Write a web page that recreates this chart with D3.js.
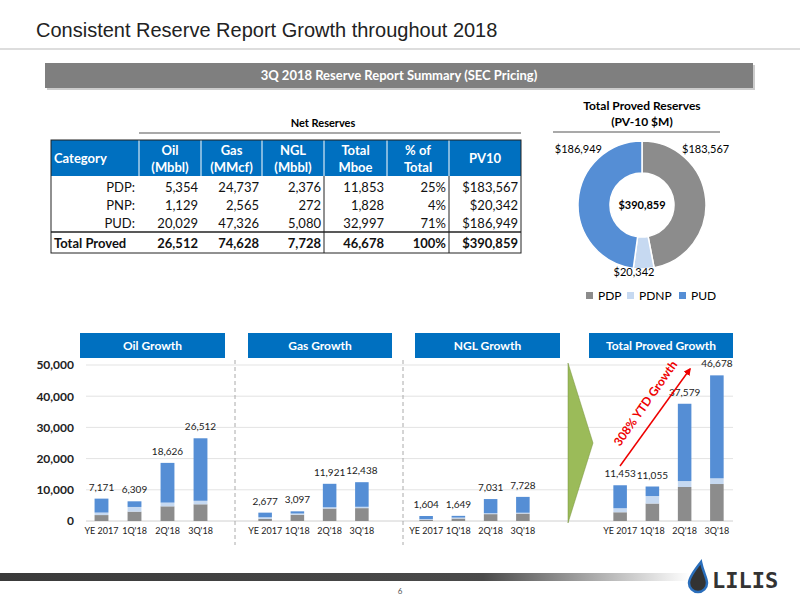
<!DOCTYPE html>
<html><head><meta charset="utf-8">
<script src="https://cdn.jsdelivr.net/npm/d3@7"></script>
<style>body{margin:0;background:#fff}svg{font-family:Lato,"Open Sans",sans-serif}</style>
</head><body><div id="chart"></div>
<script>
const quarters = ["YE 2017", "1Q'18", "2Q'18", "3Q'18"];
const panels = ["Oil Growth", "Gas Growth", "NGL Growth", "Total Proved Growth"];
const tiers = ["PDP", "PDNP", "PUD"];
// stacked values per panel: [PDP, PDNP, PUD] per quarter
const oilStack = [[1900, 800, 4471], [3000, 1500, 1809], [4700, 1200, 12726], [5354, 1129, 20029]];
const gasStack = [[700, 500, 1477], [2000, 400, 697], [4000, 400, 7521], [4123, 428, 7887]];
const nglStack = [[400, 200, 1004], [800, 300, 549], [2200, 300, 4531], [2376, 272, 5080]];
const totalStack = [[2800, 1300, 7353], [5600, 2400, 3055], [10900, 1900, 24779], [11853, 1828, 32997]];
const yTicks = [0, 10000, 20000, 30000, 40000, 50000];
const pieValues = [183567, 20342, 186949];
const pieTotal = "$390,859";
const tableHead = [["Category", ""], ["Oil", "(Mbbl)"], ["Gas", "(MMcf)"], ["NGL", "(Mbbl)"], ["Total", "Mboe"], ["% of", "Total"], ["PV10", ""]];
const tableRows = [
  ["PDP:", "5,354", "24,737", "2,376", "11,853", "25%", "$183,567"],
  ["PNP:", "1,129", "2,565", "272", "1,828", "4%", "$20,342"],
  ["PUD:", "20,029", "47,326", "5,080", "32,997", "71%", "$186,949"],
  ["Total Proved", "26,512", "74,628", "7,728", "46,678", "100%", "$390,859"]
];

const colors = {PDP: "#8c8c8c", PDNP: "#c6d9f1", PUD: "#558ed5"};
const blue = "#0070c0";
const svg = d3.select("#chart").append("svg").attr("width", 800).attr("height", 600);

// title
svg.append("text").attr("x", 36).attr("y", 37).attr("font-family", "Liberation Sans, Arial").attr("font-size", 20).attr("fill", "#222")
  .text("Consistent Reserve Report Growth throughout 2018");
svg.append("line").attr("x1", 0).attr("x2", 800).attr("y1", 49).attr("y2", 49).attr("stroke", "#bbb");

// banner
svg.append("rect").attr("x", 47).attr("y", 65).attr("width", 708).attr("height", 25).attr("fill", "#ccc");
svg.append("rect").attr("x", 45).attr("y", 63).attr("width", 708).attr("height", 25).attr("fill", "#7f7f7f");
svg.append("text").attr("x", 399).attr("y", 80).attr("text-anchor", "middle").attr("fill", "#fff")
  .attr("font-weight", "bold").attr("font-size", 13).text("3Q 2018 Reserve Report Summary (SEC Pricing)");

// table
const colX = [51, 139, 201, 262, 324, 387, 449, 521];
const tg = svg.append("g").attr("font-size", 13);
tg.append("text").attr("x", 323).attr("y", 127).attr("text-anchor", "middle").attr("font-weight", "bold").attr("font-size", 11).text("Net Reserves");
tg.append("line").attr("x1", 139).attr("x2", 521).attr("y1", 133).attr("y2", 133).attr("stroke", "#555").attr("stroke-width", 1.2);
tg.append("rect").attr("x", 51).attr("y", 140).attr("width", 470).attr("height", 36).attr("fill", blue);
tableHead.forEach((h, i) => {
  if (i > 0 && i < 7) tg.append("line").attr("x1", colX[i]).attr("x2", colX[i]).attr("y1", 140).attr("y2", 176).attr("stroke", "#fff");
  const cx = i === 0 ? 54 : (colX[i] + colX[i + 1]) / 2;
  const anchor = i === 0 ? "start" : "middle";
  const lines = h[1] === "" ? [[h[0], 163]] : [[h[0], 155], [h[1], 172]];
  lines.forEach(l => tg.append("text").attr("x", cx).attr("y", l[1]).attr("text-anchor", anchor)
    .attr("fill", "#fff").attr("font-weight", "bold").text(l[0]));
});
tg.append("rect").attr("x", 51).attr("y", 140).attr("width", 470).attr("height", 113).attr("fill", "none").attr("stroke", "#222");
[324, 449].forEach(x => tg.append("line").attr("x1", x).attr("x2", x).attr("y1", 176).attr("y2", 253).attr("stroke", "#222"));
tg.append("line").attr("x1", 51).attr("x2", 521).attr("y1", 232).attr("y2", 232).attr("stroke", "#222").attr("stroke-width", 1.5);
const rowY = [192, 210, 228, 248];
tableRows.forEach((r, ri) => {
  r.forEach((v, ci) => {
    const last = ri === 3;
    const x = ci === 0 ? (last ? 54 : 135) : colX[ci + 1] - 3;
    tg.append("text").attr("x", x).attr("y", rowY[ri]).attr("text-anchor", ci === 0 && last ? "start" : "end")
      .attr("font-weight", last ? "bold" : "normal").attr("fill", "#111").text(v);
  });
});

// donut
const pg = svg.append("g").attr("transform", "translate(642,205)");
svg.append("text").attr("x", 642).attr("y", 110).attr("text-anchor", "middle").attr("font-weight", "bold").attr("font-size", 12).text("Total Proved Reserves");
svg.append("text").attr("x", 642).attr("y", 126).attr("text-anchor", "middle").attr("font-weight", "bold").attr("font-size", 12).text("(PV-10 $M)");
svg.append("line").attr("x1", 553).attr("x2", 720).attr("y1", 132).attr("y2", 132).attr("stroke", "#555").attr("stroke-width", 1.2);
const pie = d3.pie().sort(null)(pieValues);
const arc = d3.arc().innerRadius(32).outerRadius(64);
pg.selectAll("path").data(pie).enter().append("path").attr("d", arc)
  .attr("fill", (d, i) => colors[tiers[i]]).attr("stroke", "#fff").attr("stroke-width", 1.5);
pg.append("text").attr("y", 4).attr("text-anchor", "middle").attr("font-weight", "bold").attr("font-size", 11).text(pieTotal);
const pieLabelPos = [[40, -52, "start"], [-8, 71, "middle"], [-40, -52, "end"]];
pieValues.forEach((v, i) => pg.append("text").attr("x", pieLabelPos[i][0]).attr("y", pieLabelPos[i][1])
  .attr("text-anchor", pieLabelPos[i][2]).attr("font-size", 11).text("$" + d3.format(",")(v)));
const legX = [586, 627, 679];
tiers.forEach((t, i) => {
  svg.append("rect").attr("x", legX[i]).attr("y", 292).attr("width", 7).attr("height", 7).attr("fill", colors[t]);
  svg.append("text").attr("x", legX[i] + 12).attr("y", 300).attr("font-size", 12).text(t);
});

// bar panels
const y = d3.scaleLinear().domain([0, 50000]).range([521, 365]);
const panelRanges = [[85, 217], [249, 378], [410, 539], [604, 733]];
const stacks = [oilStack, gasStack, nglStack, totalStack];
const headerX = [[80, 225], [248, 392], [415, 560], [589, 733]];
const bg = svg.append("g");
bg.selectAll("line.grid").data(yTicks.slice(1)).enter().append("line")
  .attr("x1", 86).attr("x2", 733).attr("y1", d => y(d)).attr("y2", d => y(d)).attr("stroke", "#e3e3e3");
bg.append("line").attr("x1", 86).attr("x2", 733).attr("y1", y(0)).attr("y2", y(0)).attr("stroke", "#d0d0d0");
const yAxis = d3.axisLeft(y).tickValues(yTicks).tickFormat(d3.format(",")).tickSize(0).tickPadding(6);
svg.append("g").attr("transform", "translate(80,0)").call(yAxis)
  .call(g => g.select(".domain").remove())
  .selectAll("text").attr("font-size", 12).attr("font-weight", "bold").attr("font-family", "Lato, sans-serif").attr("fill", "#222");
[235, 403].forEach(x => svg.append("line").attr("x1", x).attr("x2", x).attr("y1", 360).attr("y2", 545)
  .attr("stroke", "#aaa").attr("stroke-dasharray", "4,3"));
svg.append("path").attr("d", "M568,363 L593,443 L568,523 Z").attr("fill", "#9bbb59").attr("stroke", "#76923c").attr("stroke-width", 0.5);

stacks.forEach((data, p) => {
  const x = d3.scaleBand().domain(quarters).range(panelRanges[p]).paddingInner(0.58).paddingOuter(0.29);
  const g = svg.append("g");
  g.append("rect").attr("x", headerX[p][0]).attr("y", 333).attr("width", headerX[p][1] - headerX[p][0]).attr("height", 25).attr("fill", blue);
  g.append("text").attr("x", (headerX[p][0] + headerX[p][1]) / 2).attr("y", 350).attr("text-anchor", "middle")
    .attr("fill", "#fff").attr("font-weight", "bold").attr("font-size", 12).text(panels[p]);
  const rows = data.map((d, i) => ({q: quarters[i], PDP: d[0], PDNP: d[1], PUD: d[2]}));
  const series = d3.stack().keys(tiers)(rows);
  g.selectAll("g.s").data(series).enter().append("g").attr("fill", s => colors[s.key])
    .selectAll("rect").data(s => s).enter().append("rect")
    .attr("x", d => x(d.data.q)).attr("width", x.bandwidth())
    .attr("y", d => y(d[1])).attr("height", d => y(d[0]) - y(d[1]));
  rows.forEach(r => {
    const tot = r.PDP + r.PDNP + r.PUD;
    g.append("text").attr("x", x(r.q) + x.bandwidth() / 2).attr("y", y(tot) - 8).attr("text-anchor", "middle")
      .attr("font-size", 10).attr("fill", "#222").text(d3.format(",")(tot));
  });
  g.append("g").attr("transform", "translate(0,521)").call(d3.axisBottom(x).tickSize(0).tickPadding(7))
    .call(a => a.select(".domain").remove())
    .selectAll("text").attr("font-size", 9).attr("font-family", "Lato, sans-serif").attr("fill", "#222");
});

// growth arrow
const defs = svg.append("defs");
defs.append("marker").attr("id", "ah").attr("viewBox", "0 0 10 10").attr("refX", 8).attr("refY", 5)
  .attr("markerWidth", 5).attr("markerHeight", 5).attr("orient", "auto")
  .append("path").attr("d", "M0,0 L10,5 L0,10 Z").attr("fill", "#e00");
svg.append("line").attr("x1", 620).attr("y1", 466).attr("x2", 690).attr("y2", 369)
  .attr("stroke", "#e00").attr("stroke-width", 1.5).attr("marker-end", "url(#ah)");
svg.append("text").attr("transform", "translate(620,447) rotate(-55)").attr("fill", "#e00").attr("font-weight", "bold")
  .attr("font-size", 12).text("308% YTD Growth");

// footer
const gr = defs.append("linearGradient").attr("id", "fg");
gr.append("stop").attr("offset", "0").attr("stop-color", "#3a3a3a");
gr.append("stop").attr("offset", "0.7").attr("stop-color", "#4a4a4a");
gr.append("stop").attr("offset", "1").attr("stop-color", "#fff");
svg.append("rect").attr("x", 0).attr("y", 573).attr("width", 690).attr("height", 8).attr("fill", "url(#fg)");
svg.append("text").attr("x", 400).attr("y", 594).attr("text-anchor", "middle").attr("font-size", 8).attr("fill", "#555").text("6");
svg.append("path").attr("d", "M701,562 C693,572 689,578 689,583 A9,9 0 0 0 707,583 C707,578 703,572 701,562 Z")
  .attr("fill", "#333").attr("stroke", "#2a6ebb").attr("stroke-width", 2.5);
svg.append("text").attr("x", 712).attr("y", 588).attr("font-family", "DejaVu Sans Mono, monospace").attr("font-weight", "bold")
  .attr("font-size", 22).attr("fill", "#333").text("LILIS");
</script></body></html>
